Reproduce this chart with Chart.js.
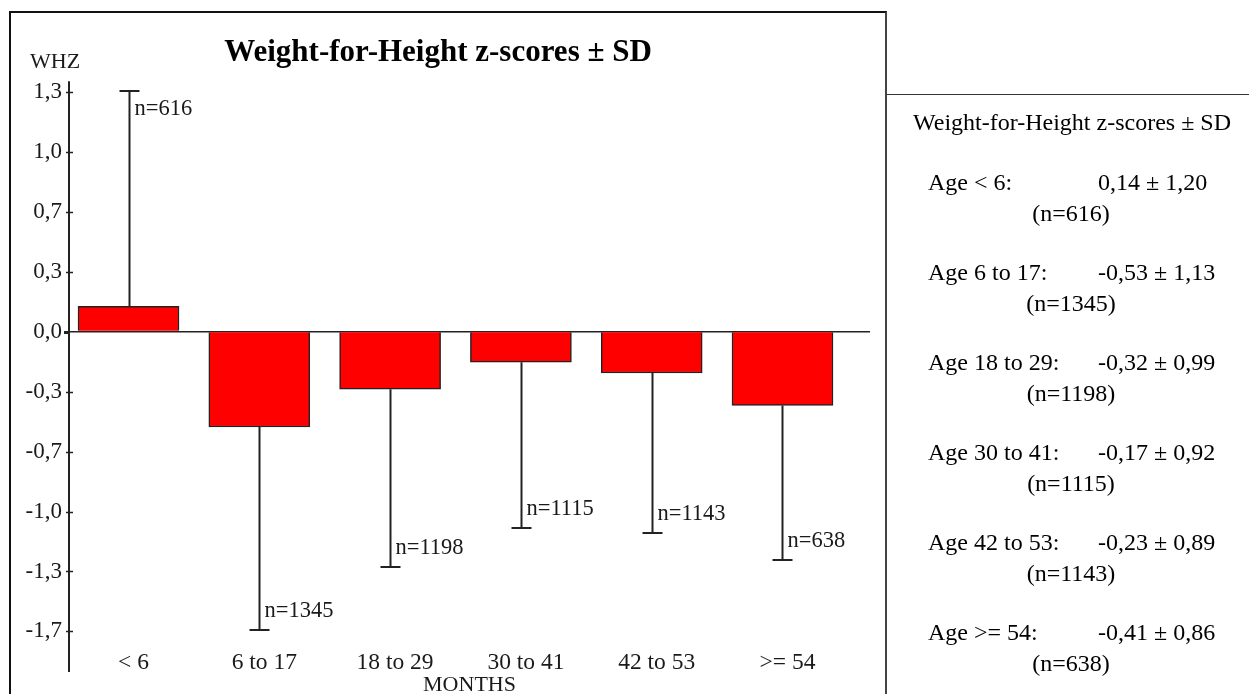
<!DOCTYPE html>
<html>
<head>
<meta charset="utf-8">
<title>Weight-for-Height z-scores</title>
<script src="https://cdn.jsdelivr.net/npm/chart.js@4"></script>
<style>
  body { margin: 0; background: #fff; font-family: 'Liberation Serif', 'Times New Roman', serif; }
  #page { position: relative; width: 1249px; height: 694px; overflow: hidden; }
  #chart-wrap { position: absolute; left: 0; top: 0; width: 888px; height: 694px; }
  #frame { position: absolute; left: 9px; top: 11px; width: 874px; height: 700px;
    border-left: 2px solid #111; border-top: 2px solid #111; border-right: 2px solid #444; pointer-events: none; }
  #side-rule { position: absolute; left: 887px; top: 94px; width: 362px; border-top: 1px solid #333; }
  #side { position: absolute; left: 888px; top: 0; width: 361px; height: 694px; color: #000; font-size: 24px; }
  #side .title { position: absolute; left: 0; width: 368px; text-align: center; top: 107px; line-height: 30px; }
  #side .age { position: absolute; left: 40px; line-height: 30px; white-space: pre; }
  #side .val { position: absolute; left: 210px; line-height: 30px; white-space: pre; }
  #side .n { position: absolute; left: 0; width: 366px; text-align: center; line-height: 30px; }
</style>
</head>
<body>
<div id="page">
  <div id="chart-wrap"><canvas id="whz-chart"></canvas></div>
  <div id="frame"></div>
  <div id="side-rule"></div>
  <div id="side"></div>
</div>
<script>
// data
const categories = ['< 6', '6 to 17', '18 to 29', '30 to 41', '42 to 53', '>= 54'];
const means = [0.14, -0.53, -0.32, -0.17, -0.23, -0.41];
const sds = [1.20, 1.13, 0.99, 0.92, 0.89, 0.86];
const counts = [616, 1345, 1198, 1115, 1143, 638];
const tickValues = [4 / 3, 1, 2 / 3, 1 / 3, 0, -1 / 3, -2 / 3, -1, -4 / 3, -5 / 3];
const tickLabels = ['1,3', '1,0', '0,7', '0,3', '0,0', '-0,3', '-0,7', '-1,0', '-1,3', '-1,7'];

const serif = "'Liberation Serif', 'Times New Roman', serif";
const ink = '#1a1a1a';

function comma(v) {
  return v.toFixed(2).replace('.', ',');
}

// side panel text
const side = document.getElementById('side');
side.innerHTML = '<div class="title">Weight-for-Height z-scores \u00b1 SD</div>';
categories.forEach((cat, i) => {
  let top = 167 + i * 90;
  side.innerHTML +=
    `<div class="age" style="top:${top}px">Age ${cat.replace('<', '&lt;').replace('>', '&gt;')}:</div>` +
    `<div class="val" style="top:${top}px">${comma(means[i])} \u00b1 ${comma(sds[i])}</div>` +
    `<div class="n" style="top:${top + 31}px">(n=${counts[i]})</div>`;
});

// error bars, n labels, y axis line and WHZ label
const whzPlugin = {
  id: 'whzExtras',
  afterDatasetsDraw(chart) {
    const {ctx, scales: {x, y}} = chart;
    ctx.save();
    ctx.strokeStyle = '#222';
    ctx.lineWidth = 2;
    ctx.fillStyle = ink;
    ctx.font = '22.5px ' + serif;
    ctx.textAlign = 'left';
    ctx.textBaseline = 'middle';
    means.forEach((m, i) => {
      let cx = Math.round(x.getPixelForValue(i)) + 0.5;
      let end = m >= 0 ? m + sds[i] : m - sds[i];
      let y0 = y.getPixelForValue(m);
      let y1 = Math.round(y.getPixelForValue(end));
      ctx.beginPath();
      ctx.moveTo(cx, y0);
      ctx.lineTo(cx, y1);
      ctx.moveTo(cx - 10, y1);
      ctx.lineTo(cx + 10, y1);
      ctx.stroke();
      ctx.fillText('n=' + counts[i], cx + 5, m >= 0 ? y1 + 18 : y1 - 19);
    });
    ctx.restore();
  },
  afterDraw(chart) {
    const {ctx, chartArea, scales: {y}} = chart;
    let ax = chartArea.left;
    ctx.save();
    ctx.strokeStyle = '#222';
    ctx.lineWidth = 2;
    ctx.beginPath();
    ctx.moveTo(ax, chartArea.top);
    ctx.lineTo(ax, chartArea.bottom + 27);
    ctx.stroke();
    y.ticks.forEach(t => {
      let py = Math.round(y.getPixelForValue(t.value)) + 0.5;
      ctx.lineWidth = t.value === 0 ? 3 : 1.5;
      ctx.beginPath();
      ctx.moveTo(ax - (t.value === 0 ? 5 : 3), py);
      ctx.lineTo(ax + (t.value === 0 ? 1 : 4), py);
      ctx.stroke();
    });
    ctx.fillStyle = ink;
    ctx.font = '22px ' + serif;
    ctx.textBaseline = 'middle';
    ctx.fillText('WHZ', 30, 62);
    ctx.restore();
  }
};

const whzChart = new Chart(document.getElementById('whz-chart'), {
  type: 'bar',
  data: {
    datasets: [{
      label: 'WHZ',
      data: means.map((m, i) => ({x: i, y: m})),
      backgroundColor: '#ff0000',
      borderColor: '#222',
      borderWidth: 1.5,
      barThickness: 101
    }]
  },
  options: {
    responsive: true,
    maintainAspectRatio: false,
    animation: false,
    layout: {padding: {left: 6, right: 18, top: 0, bottom: 0}},
    plugins: {
      legend: {display: false},
      tooltip: {enabled: false},
      title: {
        display: true,
        text: 'Weight-for-Height z-scores \u00b1 SD',
        color: '#000',
        font: {family: serif, size: 31, weight: 'bold', lineHeight: 1.2},
        padding: {top: 34, bottom: 10}
      }
    },
    scales: {
      x: {
        type: 'linear',
        offset: false,
        min: -0.455,
        max: 5.669,
        afterBuildTicks: scale => {
          scale.ticks = categories.map((c, i) => ({value: i}));
        },
        grid: {display: false},
        border: {display: false},
        ticks: {
          callback: (v, i) => categories[i],
          color: ink,
          font: {family: serif, size: 23.5},
          padding: -4,
          labelOffset: 5,
          maxRotation: 0,
          autoSkip: false
        },
        title: {
          display: true,
          text: 'MONTHS',
          color: ink,
          font: {family: serif, size: 22, lineHeight: 0.8},
          padding: 0
        },
        afterFit: scale => { scale.height = 49; }
      },
      y: {
        min: -1.742,
        max: 1.392,
        afterBuildTicks: scale => {
          scale.ticks = tickValues.map(v => ({value: v}));
        },
        grid: {
          drawTicks: false,
          color: ctx => ctx.tick && ctx.tick.value === 0 ? '#222' : 'transparent',
          lineWidth: 1.5
        },
        border: {display: false},
        ticks: {
          callback: (v, i) => tickLabels[i],
          color: ink,
          font: {family: serif, size: 23},
          padding: 7
        },
        afterFit: scale => { scale.width = 63; }
      }
    }
  },
  plugins: [whzPlugin]
});
</script>
</body>
</html>
